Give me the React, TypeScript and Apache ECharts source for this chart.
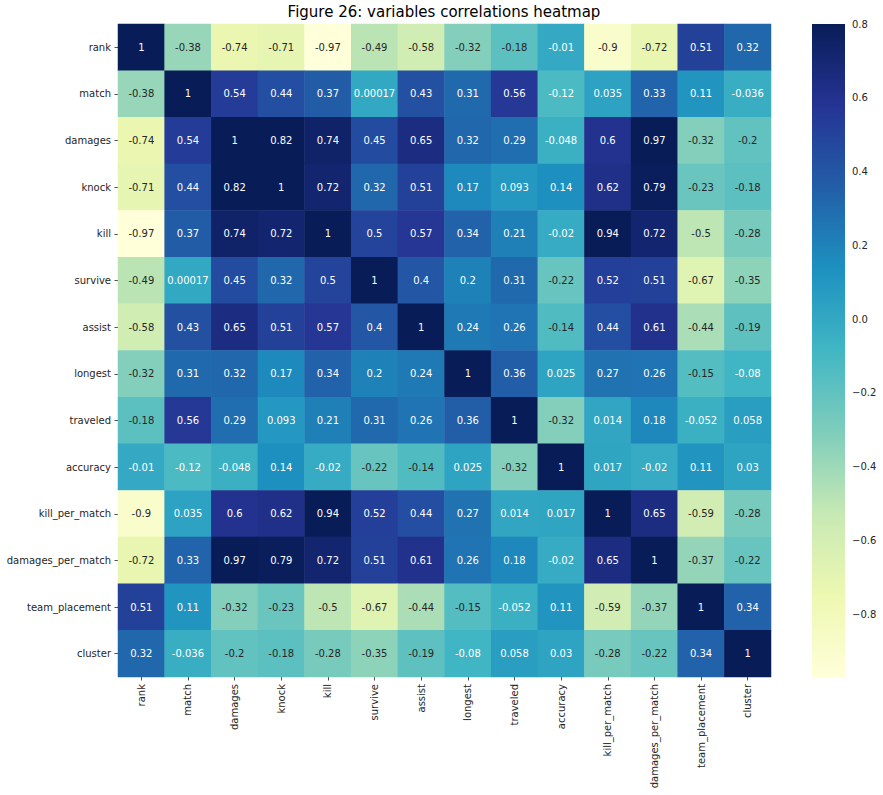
import React, { useEffect, useRef } from "react";
import * as echarts from "echarts";

const labels = [
  "rank", "match", "damages", "knock", "kill", "survive", "assist", "longest",
  "traveled", "accuracy", "kill_per_match", "damages_per_match", "team_placement", "cluster",
];

const rowRank = [1, -0.38, -0.74, -0.71, -0.97, -0.49, -0.58, -0.32, -0.18, -0.01, -0.9, -0.72, 0.51, 0.32];
const rowMatch = [-0.38, 1, 0.54, 0.44, 0.37, 0.00017, 0.43, 0.31, 0.56, -0.12, 0.035, 0.33, 0.11, -0.036];
const rowDamages = [-0.74, 0.54, 1, 0.82, 0.74, 0.45, 0.65, 0.32, 0.29, -0.048, 0.6, 0.97, -0.32, -0.2];
const rowKnock = [-0.71, 0.44, 0.82, 1, 0.72, 0.32, 0.51, 0.17, 0.093, 0.14, 0.62, 0.79, -0.23, -0.18];
const rowKill = [-0.97, 0.37, 0.74, 0.72, 1, 0.5, 0.57, 0.34, 0.21, -0.02, 0.94, 0.72, -0.5, -0.28];
const rowSurvive = [-0.49, 0.00017, 0.45, 0.32, 0.5, 1, 0.4, 0.2, 0.31, -0.22, 0.52, 0.51, -0.67, -0.35];
const rowAssist = [-0.58, 0.43, 0.65, 0.51, 0.57, 0.4, 1, 0.24, 0.26, -0.14, 0.44, 0.61, -0.44, -0.19];
const rowLongest = [-0.32, 0.31, 0.32, 0.17, 0.34, 0.2, 0.24, 1, 0.36, 0.025, 0.27, 0.26, -0.15, -0.08];
const rowTraveled = [-0.18, 0.56, 0.29, 0.093, 0.21, 0.31, 0.26, 0.36, 1, -0.32, 0.014, 0.18, -0.052, 0.058];
const rowAccuracy = [-0.01, -0.12, -0.048, 0.14, -0.02, -0.22, -0.14, 0.025, -0.32, 1, 0.017, -0.02, 0.11, 0.03];
const rowKillPerMatch = [-0.9, 0.035, 0.6, 0.62, 0.94, 0.52, 0.44, 0.27, 0.014, 0.017, 1, 0.65, -0.59, -0.28];
const rowDamagesPerMatch = [-0.72, 0.33, 0.97, 0.79, 0.72, 0.51, 0.61, 0.26, 0.18, -0.02, 0.65, 1, -0.37, -0.22];
const rowTeamPlacement = [0.51, 0.11, -0.32, -0.23, -0.5, -0.67, -0.44, -0.15, -0.052, 0.11, -0.59, -0.37, 1, 0.34];
const rowCluster = [0.32, -0.036, -0.2, -0.18, -0.28, -0.35, -0.19, -0.08, 0.058, 0.03, -0.28, -0.22, 0.34, 1];

const matrix = [
  rowRank, rowMatch, rowDamages, rowKnock, rowKill, rowSurvive, rowAssist, rowLongest,
  rowTraveled, rowAccuracy, rowKillPerMatch, rowDamagesPerMatch, rowTeamPlacement, rowCluster,
];

const colorbarTicks = [-0.8, -0.6, -0.4, -0.2, 0, 0.2, 0.4, 0.6, 0.8];
const vMin = -0.97;
const vMax = 0.8;
const title = "Figure 26: variables correlations heatmap";

const YlGnBu = [
  "#ffffd9", "#edf8b1", "#c7e9b4", "#7fcdbb", "#41b6c4",
  "#1d91c0", "#225ea8", "#253494", "#081d58",
];

const hexToRgb = (h: string) => [
  parseInt(h.slice(1, 3), 16) / 255,
  parseInt(h.slice(3, 5), 16) / 255,
  parseInt(h.slice(5, 7), 16) / 255,
];

const cmap = (v: number) => {
  let t = (v - vMin) / (vMax - vMin);
  t = Math.max(0, Math.min(1, t));
  const pos = t * (YlGnBu.length - 1);
  const i = Math.min(Math.floor(pos), YlGnBu.length - 2);
  const f = pos - i;
  const a = hexToRgb(YlGnBu[i]);
  const b = hexToRgb(YlGnBu[i + 1]);
  return [0, 1, 2].map((k) => a[k] + (b[k] - a[k]) * f);
};

const luminance = (rgb: number[]) => {
  const lin = rgb.map((c) => (c <= 0.03928 ? c / 12.92 : Math.pow((c + 0.055) / 1.055, 2.4)));
  return 0.2126 * lin[0] + 0.7152 * lin[1] + 0.0722 * lin[2];
};

const FONT = "DejaVu Sans";
const TXT = "#262626";

export default function App() {
  const ref = useRef<HTMLDivElement>(null);

  useEffect(() => {
    if (!ref.current) return;
    const chart = echarts.init(ref.current, undefined, { renderer: "svg" });

    const data: any[] = [];
    matrix.forEach((row, r) => {
      row.forEach((v, c) => {
        const clamped = Math.max(vMin, Math.min(vMax, v));
        const lum = luminance(cmap(v));
        data.push({
          value: [c, r, clamped, v],
          label: { color: lum > 0.408 ? TXT : "#ffffff" },
        });
      });
    });

    // top of bar = darkest (vMax), bottom = lightest (vMin); offsets ascending
    const gradStops = YlGnBu.slice()
      .reverse()
      .map((col, i) => ({ offset: i / (YlGnBu.length - 1), color: col }));

    chart.setOption({
      animation: false,
      backgroundColor: "#ffffff",
      textStyle: { fontFamily: FONT },
      graphic: [
        {
          type: "text",
          x: 444,
          y: 12,
          style: {
            text: title,
            font: `15px "${FONT}"`,
            fill: "#000000",
            align: "center",
            verticalAlign: "middle",
          },
        },
      ],
      grid: [
        { left: 118, top: 24, width: 653, height: 653 },
        { left: 812, top: 24, width: 33, height: 653 },
      ],
      xAxis: [
        {
          type: "category",
          gridIndex: 0,
          data: labels,
          position: "bottom",
          axisLine: { show: false },
          axisTick: { show: true, length: 3.5, alignWithLabel: true, lineStyle: { color: TXT, width: 0.8 } },
          axisLabel: { rotate: 90, margin: 7, fontSize: 10, color: TXT, fontFamily: FONT, interval: 0 },
          splitLine: { show: false },
        },
        {
          type: "value",
          gridIndex: 1,
          min: 0,
          max: 1,
          show: false,
        },
      ],
      yAxis: [
        {
          type: "category",
          gridIndex: 0,
          data: labels,
          inverse: true,
          axisLine: { show: false },
          axisTick: { show: true, length: 3.5, alignWithLabel: true, lineStyle: { color: TXT, width: 0.8 } },
          axisLabel: { margin: 7, fontSize: 10, color: TXT, fontFamily: FONT, interval: 0 },
          splitLine: { show: false },
        },
        {
          type: "value",
          gridIndex: 1,
          min: vMin,
          max: vMax,
          position: "right",
          axisLine: { show: false },
          splitLine: { show: false },
          axisTick: {
            show: true,
            length: 3.5,
            customValues: colorbarTicks,
            lineStyle: { color: TXT, width: 0.8 },
          },
          axisLabel: {
            margin: 7,
            fontSize: 10,
            color: TXT,
            fontFamily: FONT,
            align: "left",
            customValues: colorbarTicks,
            formatter: (v: number) => {
              const s = Math.abs(v).toFixed(1);
              return v < -1e-9 ? "\u2212" + s : s;
            },
          },
        },
      ],
      visualMap: {
        show: false,
        type: "continuous",
        min: vMin,
        max: vMax,
        dimension: 2,
        seriesIndex: 0,
        inRange: { color: YlGnBu },
      },
      series: [
        {
          type: "heatmap",
          xAxisIndex: 0,
          yAxisIndex: 0,
          data,
          label: {
            show: true,
            fontSize: 10,
            fontFamily: FONT,
            formatter: (p: any) => String(p.value[3]),
          },
          itemStyle: { borderWidth: 0 },
          emphasis: { disabled: true },
        },
        {
          type: "custom",
          xAxisIndex: 1,
          yAxisIndex: 1,
          data: [[0, vMax, 1, vMin]],
          silent: true,
          renderItem: (params: any, api: any) => {
            const p0 = api.coord([0, vMax]);
            const p1 = api.coord([1, vMin]);
            return {
              type: "rect",
              shape: { x: p0[0], y: p0[1], width: p1[0] - p0[0], height: p1[1] - p0[1] },
              style: { fill: new echarts.graphic.LinearGradient(0, 0, 0, 1, gradStops) },
            };
          },
        },
      ],
    });

    return () => chart.dispose();
  }, []);

  return (
    <div
      ref={ref}
      style={{ position: "fixed", left: 0, top: 0, width: 883, height: 795 }}
    />
  );
}
